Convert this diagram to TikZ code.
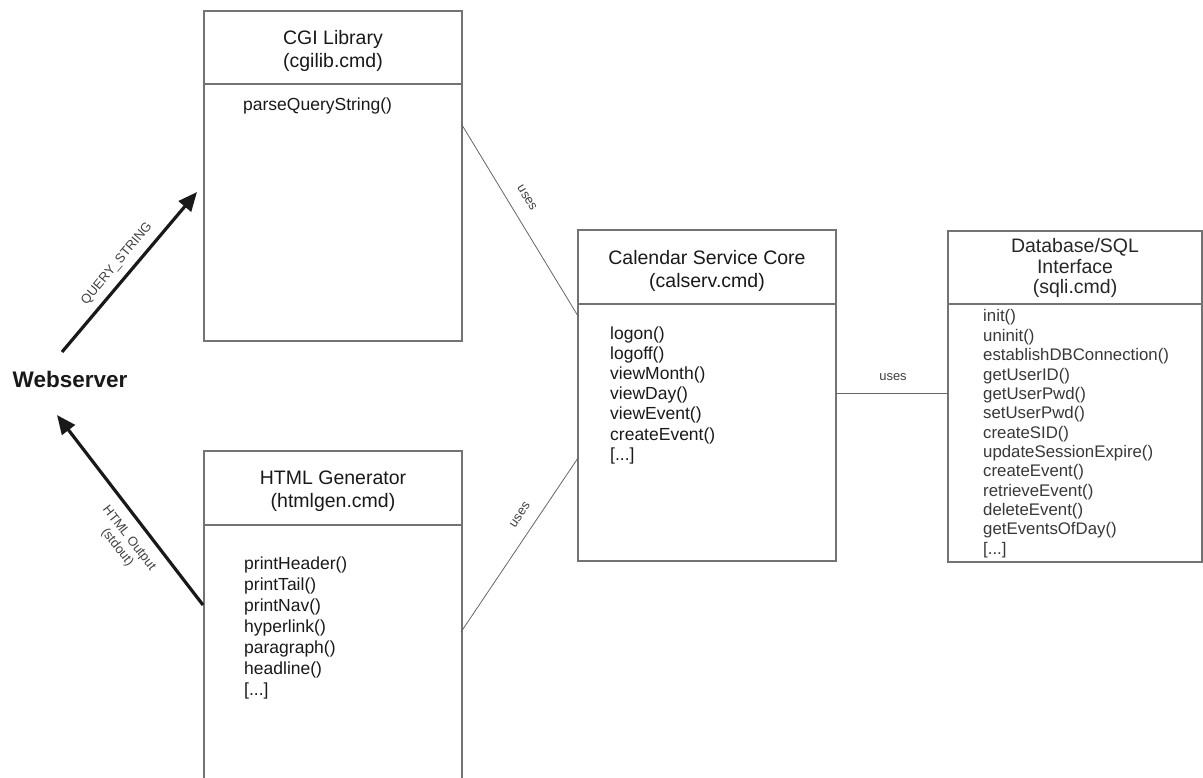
\documentclass[tikz,border=0pt]{standalone}
\usepackage{fontspec}
\setmainfont{Liberation Sans}
\usetikzlibrary{arrows.meta}
\newcommand\etcbrk{[...]}
\begin{document}
\begin{tikzpicture}[x=1pt,y=-1pt,
  boxpart/.style={draw=black!55, line width=1.2pt, inner sep=0pt, outer sep=0pt, anchor=north west},
  hdr/.style={font=\fontsize{19.5}{22}\selectfont, text=black!90, anchor=base, inner sep=0pt},
  dbhdr/.style={font=\fontsize{19.5}{22}\selectfont, text=black!85, anchor=base, inner sep=0pt},
  meth/.style={font=\fontsize{17.5}{20}\selectfont, text=black!90, anchor=base west, inner sep=0pt},
  dbmeth/.style={font=\fontsize{16.8}{19}\selectfont, text=black!78, anchor=base west, inner sep=0pt},
  conn/.style={draw=black!60, line width=0.8pt},
  flow/.style={draw=black!90, line width=3.2pt, -{Triangle[length=19pt,width=16pt]}},
  lbl/.style={font=\fontsize{13}{15}\selectfont, text=black!75, inner sep=0pt}
]
\useasboundingbox (0,0) rectangle (1203,778);

% ---- CGI Library
\node[boxpart, minimum width=258pt, minimum height=73pt] (cgihead) at (204,11) {};
\node[boxpart, minimum width=258pt, minimum height=257pt] (cgibody) at (204,84) {};
\node[hdr] (cgit1) at (333,45) {CGI Library};
\node[hdr] (cgit2) at (333,68) {(cgilib.cmd)};
\node[meth] (cgim1) at (243,111) {parseQueryString()};

% ---- HTML Generator
\node[boxpart, minimum width=258pt, minimum height=74pt] (htmlhead) at (204,451) {};
\begin{scope}
  \clip (0,0) rectangle (1203,778);
  \node[boxpart, minimum width=258pt, minimum height=300pt] (htmlbody) at (204,525) {};
\end{scope}
\node[hdr] (htmlt1) at (333,484) {HTML Generator};
\node[hdr] (htmlt2) at (333,507) {(htmlgen.cmd)};
\foreach \t [count=\i] in {printHeader(),printTail(),printNav(),hyperlink(),paragraph(),headline(),\etcbrk}
  \node[meth] (htmlm\i) at (244,{569+21*(\i-1)}) {\t};

% ---- Calendar Service Core
\node[boxpart, minimum width=258pt, minimum height=74pt] (calhead) at (578,230) {};
\node[boxpart, minimum width=258pt, minimum height=257pt] (calbody) at (578,304) {};
\node[hdr] (calt1) at (707,265) {Calendar Service Core};
\node[hdr] (calt2) at (707,288) {(calserv.cmd)};
\foreach \t [count=\i] in {logon(),logoff(),viewMonth(),viewDay(),viewEvent(),createEvent(),\etcbrk}
  \node[meth] (calm\i) at (610,{339+20.2*(\i-1)}) {\t};

% ---- Database/SQL Interface
\node[boxpart, minimum width=254pt, minimum height=73pt] (dbhead) at (948,231) {};
\node[boxpart, minimum width=254pt, minimum height=258pt] (dbbody) at (948,304) {};
\node[dbhdr] (dbt1) at (1075,253) {Database/SQL};
\node[dbhdr] (dbt2) at (1075,274) {Interface};
\node[dbhdr] (dbt3) at (1075,294) {(sqli.cmd)};
\foreach \t [count=\i] in {init(),uninit(),establishDBConnection(),getUserID(),getUserPwd(),setUserPwd(),createSID(),updateSessionExpire(),createEvent(),retrieveEvent(),deleteEvent(),getEventsOfDay(),\etcbrk}
  \node[dbmeth] (dbm\i) at (983,{322+19.35*(\i-1)}) {\t};

% ---- Webserver
\node[font=\fontsize{22.5}{25}\selectfont\bfseries, text=black!90, anchor=base, inner sep=0pt] (web) at (70,387) {Webserver};

% ---- connector end points
\coordinate (cgiuse) at (462,125);
\coordinate (caluse1) at (578,316);
\coordinate (htmluse) at (461,632);
\coordinate (caluse2) at (578,458);
\coordinate (caluse3) at (836,393);
\coordinate (dbuse) at (948,393);
\coordinate (webout) at (62,352);
\coordinate (cgiin) at (197,192);
\coordinate (htmlout) at (203,605);
\coordinate (webin) at (57,415);

% ---- connectors
\draw[conn] (cgiuse) -- (caluse1);
\draw[conn] (htmluse) -- (caluse2);
\draw[conn] (caluse3) -- (dbuse);
\draw[flow] (webout) -- (cgiin);
\draw[flow] (htmlout) -- (webin);

% ---- labels
\node[lbl, rotate=-59] (l1) at (527,198) {uses};
\node[lbl, rotate=56] (l2) at (520,515) {uses};
\node[lbl] (l3) at (893,377) {uses};
\node[lbl, rotate=50] (l4) at (117,264) {QUERY\_STRING};
\node[lbl, rotate=-52, align=center] (l5) at (123,543) {HTML Output\\(stdout)};
\end{tikzpicture}
\end{document}
